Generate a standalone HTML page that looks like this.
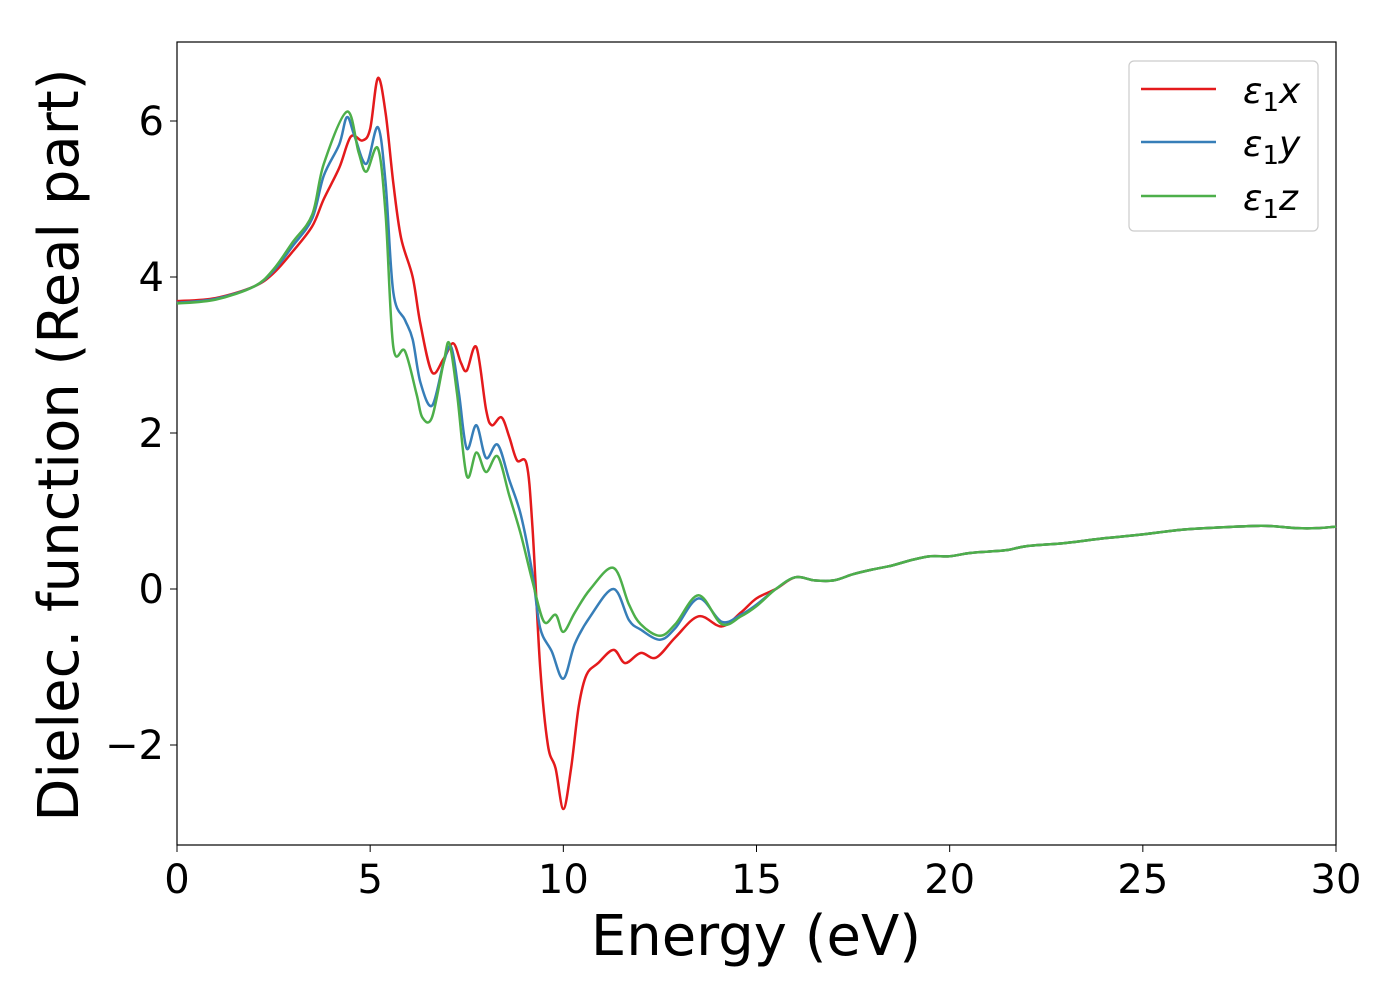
<!DOCTYPE html>
<html><head><meta charset="utf-8"><style>
body{margin:0;background:#fff}
svg text{font-family:"DejaVu Sans","Liberation Sans",sans-serif;fill:#000}
</style></head><body>
<svg id="chart" width="1400" height="1000">
<rect x="177" y="42" width="1159" height="803" fill="#fff" stroke="#000" stroke-width="1.2"/>
<g id="ticks"></g>
<g id="lines"></g>
<text x="756" y="955" font-size="56" text-anchor="middle">Energy (eV)</text>
<text transform="translate(78,445) rotate(-90)" font-size="56" text-anchor="middle">Dielec. function (Real part)</text>
<g>
<rect x="1129" y="61" width="189" height="170" rx="5" fill="#fff" stroke="#ccc" stroke-width="1.2"/>
<line x1="1141" y1="89" x2="1216" y2="89" stroke="#e41a1c" stroke-width="2.5"/>
<line x1="1141" y1="142" x2="1216" y2="142" stroke="#377eb8" stroke-width="2.5"/>
<line x1="1141" y1="196" x2="1216" y2="196" stroke="#4daf4a" stroke-width="2.5"/>
<text x="1243" y="103" font-size="36" font-style="italic">ε<tspan font-style="normal" font-size="26" dy="8">1</tspan><tspan dy="-8">x</tspan></text>
<text x="1243" y="156" font-size="36" font-style="italic">ε<tspan font-style="normal" font-size="26" dy="8">1</tspan><tspan dy="-8">y</tspan></text>
<text x="1243" y="210" font-size="36" font-style="italic">ε<tspan font-style="normal" font-size="26" dy="8">1</tspan><tspan dy="-8">z</tspan></text>
</g>
</svg>
<script>
const xTicks=[0,5,10,15,20,25,30];
const yTicks=[-2,0,2,4,6];
const tail=[[15.5,0.0],[16,0.15],[16.5,0.11],[17,0.11],[17.5,0.19],[18,0.25],[18.5,0.3],[19,0.37],[19.5,0.42],[20,0.42],[20.5,0.46],[21,0.48],[21.5,0.5],[22,0.55],[23,0.59],[24,0.65],[25,0.7],[26,0.76],[27,0.79],[28,0.81],[28.5,0.8],[29,0.78],[29.5,0.78],[30,0.8]];
const redE=[0,1,2,2.5,3,3.5,3.8,4.2,4.5,4.8,5.0,5.2,5.4,5.6,5.8,6.1,6.3,6.6,6.9,7.15,7.35,7.5,7.75,8.0,8.15,8.4,8.6,8.8,9.05,9.2,9.4,9.6,9.8,10.0,10.2,10.4,10.6,10.9,11.3,11.6,12.0,12.4,12.9,13.5,14.1,14.6,15.0];
const redV=[3.69,3.73,3.88,4.05,4.33,4.65,5.0,5.4,5.8,5.75,5.9,6.55,6.1,5.2,4.5,4.0,3.4,2.78,2.95,3.15,2.9,2.8,3.1,2.3,2.1,2.2,1.95,1.65,1.6,0.8,-1.0,-2.0,-2.3,-2.82,-2.3,-1.5,-1.1,-0.95,-0.78,-0.95,-0.82,-0.88,-0.62,-0.35,-0.48,-0.3,-0.12];
const blueE=[0,1,2,2.5,3,3.5,3.8,4.2,4.4,4.6,4.9,5.2,5.4,5.6,5.9,6.1,6.3,6.6,6.9,7.1,7.3,7.5,7.75,8.0,8.3,8.6,8.9,9.2,9.4,9.7,10.0,10.3,10.7,11.3,11.7,12.0,12.5,12.9,13.5,14.1,14.6,15.0];
const blueV=[3.67,3.72,3.88,4.08,4.4,4.75,5.3,5.7,6.05,5.8,5.45,5.92,5.2,3.8,3.45,3.2,2.65,2.35,2.9,3.1,2.5,1.8,2.1,1.68,1.85,1.4,0.95,0.2,-0.5,-0.8,-1.15,-0.7,-0.35,0.0,-0.4,-0.52,-0.65,-0.5,-0.12,-0.42,-0.33,-0.2];
const greenE=[0,1,2,2.5,3,3.5,3.8,4.4,4.7,4.9,5.2,5.4,5.6,5.9,6.2,6.35,6.6,6.9,7.05,7.25,7.5,7.75,8.0,8.3,8.6,8.9,9.2,9.5,9.8,10.0,10.3,10.7,11.3,11.7,12.0,12.5,12.9,13.5,14.1,14.6,15.0];
const greenV=[3.66,3.71,3.88,4.1,4.45,4.8,5.45,6.12,5.6,5.35,5.65,4.8,3.1,3.05,2.5,2.2,2.2,2.9,3.15,2.5,1.45,1.75,1.5,1.7,1.2,0.7,0.1,-0.42,-0.33,-0.55,-0.3,0.0,0.27,-0.2,-0.45,-0.6,-0.45,-0.08,-0.45,-0.35,-0.22];
const X=e=>177+e*1159/30, Y=v=>589-v*78;
const NS="http://www.w3.org/2000/svg";
const tg=document.getElementById('ticks');
for(const t of xTicks){
 const l=document.createElementNS(NS,'line');
 l.setAttribute('x1',X(t));l.setAttribute('x2',X(t));l.setAttribute('y1',845);l.setAttribute('y2',852);l.setAttribute('stroke','#000');
 
 
 tg.appendChild(l);
 const s=document.createElementNS(NS,'text');
 s.setAttribute('x',X(t));s.setAttribute('y',893);s.setAttribute('font-size','40');s.setAttribute('text-anchor','middle');s.textContent=t;
 
 
 tg.appendChild(s);
}
for(const t of yTicks){
 const l=document.createElementNS(NS,'line');
 l.setAttribute('x1',170);l.setAttribute('x2',177);l.setAttribute('y1',Y(t));l.setAttribute('y2',Y(t));l.setAttribute('stroke','#000');
 
 
 tg.appendChild(l);
 const s=document.createElementNS(NS,'text');
 s.setAttribute('x',164);s.setAttribute('y',Y(t)+14);s.setAttribute('font-size','40');s.setAttribute('text-anchor','end');s.textContent=t<0?'−'+(-t):t;
 
 
 tg.appendChild(s);
}
function path(E,V){
 const p=E.map((e,i)=>[X(e),Y(V[i])]).concat(tail.map(t=>[X(t[0]),Y(t[1])]));
 let d='M'+p[0][0]+','+p[0][1];
 for(let i=0;i<p.length-1;i++){
  const p0=p[Math.max(0,i-1)],p1=p[i],p2=p[i+1],p3=p[Math.min(p.length-1,i+2)];
  d+=' C'+(p1[0]+(p2[0]-p0[0])/6)+','+(p1[1]+(p2[1]-p0[1])/6)+' '+(p2[0]-(p3[0]-p1[0])/6)+','+(p2[1]-(p3[1]-p1[1])/6)+' '+p2[0]+','+p2[1];
 }
 return d;
}
const lg=document.getElementById('lines');
[[redE,redV,'#e41a1c','series-eps1x'],[blueE,blueV,'#377eb8','series-eps1y'],[greenE,greenV,'#4daf4a','series-eps1z']].forEach(s=>{
 const p=document.createElementNS(NS,'path');
 p.setAttribute('d',path(s[0],s[1]));p.setAttribute('fill','none');p.setAttribute('stroke',s[2]);p.setAttribute('stroke-width','2.5');
 
 
 lg.appendChild(p);
});
</script>
</body></html>
